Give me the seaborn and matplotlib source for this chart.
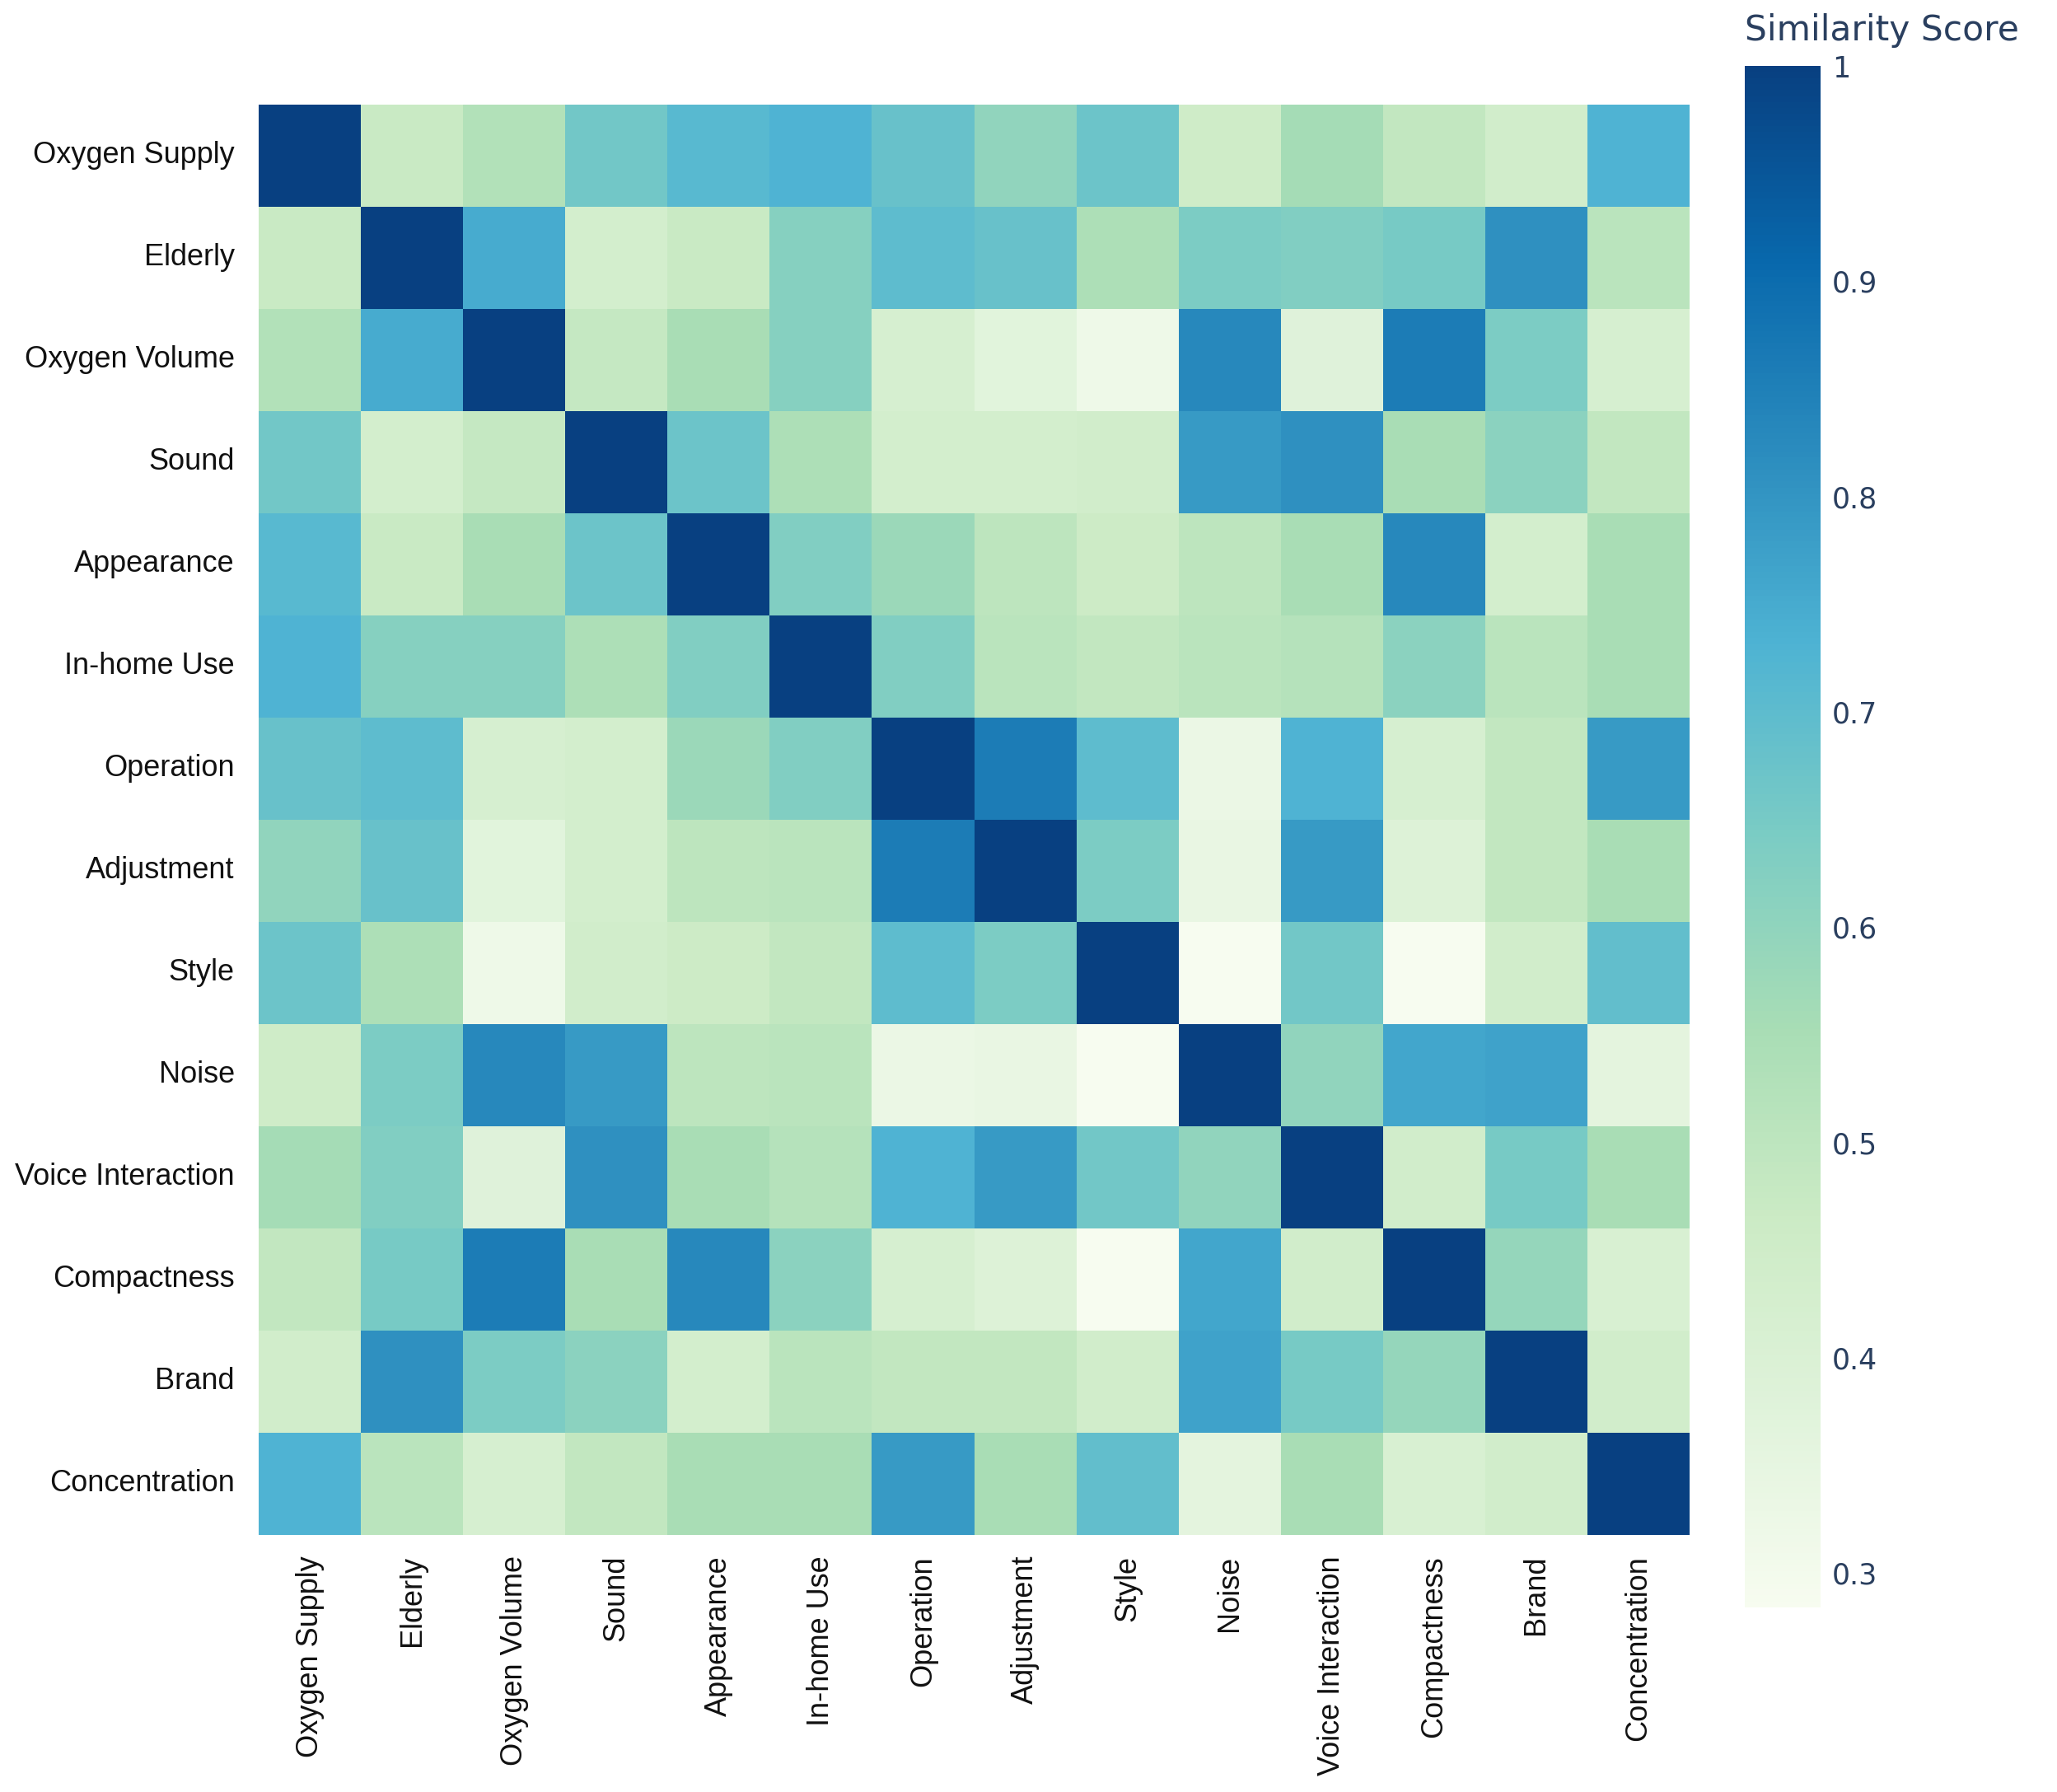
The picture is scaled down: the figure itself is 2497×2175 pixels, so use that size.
import matplotlib.pyplot as plt
import seaborn as sns
import pandas as pd

labels = [
    "Oxygen Supply", "Elderly", "Oxygen Volume", "Sound", "Appearance",
    "In-home Use", "Operation", "Adjustment", "Style", "Noise",
    "Voice Interaction", "Compactness", "Brand", "Concentration",
]

# similarity scores
scores = [
    [1.00, 0.47, 0.53, 0.66, 0.71, 0.73, 0.68, 0.60, 0.67, 0.45, 0.56, 0.49, 0.44, 0.73],
    [0.47, 1.00, 0.75, 0.43, 0.47, 0.62, 0.70, 0.68, 0.54, 0.64, 0.63, 0.65, 0.81, 0.51],
    [0.53, 0.75, 1.00, 0.48, 0.55, 0.62, 0.42, 0.37, 0.32, 0.83, 0.38, 0.86, 0.64, 0.42],
    [0.66, 0.43, 0.48, 1.00, 0.67, 0.54, 0.43, 0.43, 0.44, 0.79, 0.81, 0.55, 0.61, 0.49],
    [0.71, 0.47, 0.55, 0.67, 1.00, 0.63, 0.58, 0.50, 0.46, 0.50, 0.55, 0.83, 0.43, 0.55],
    [0.73, 0.62, 0.62, 0.54, 0.63, 1.00, 0.63, 0.51, 0.49, 0.51, 0.52, 0.61, 0.51, 0.55],
    [0.68, 0.70, 0.42, 0.43, 0.58, 0.63, 1.00, 0.86, 0.70, 0.33, 0.73, 0.42, 0.49, 0.79],
    [0.60, 0.68, 0.37, 0.43, 0.50, 0.51, 0.86, 1.00, 0.64, 0.34, 0.79, 0.39, 0.49, 0.55],
    [0.67, 0.54, 0.32, 0.44, 0.46, 0.49, 0.70, 0.64, 1.00, 0.284, 0.66, 0.284, 0.44, 0.69],
    [0.45, 0.64, 0.83, 0.79, 0.50, 0.51, 0.33, 0.34, 0.284, 1.00, 0.60, 0.76, 0.77, 0.36],
    [0.56, 0.63, 0.38, 0.81, 0.55, 0.52, 0.73, 0.79, 0.66, 0.60, 1.00, 0.44, 0.65, 0.55],
    [0.49, 0.65, 0.86, 0.55, 0.83, 0.61, 0.42, 0.39, 0.284, 0.76, 0.44, 1.00, 0.59, 0.41],
    [0.44, 0.81, 0.64, 0.61, 0.43, 0.51, 0.49, 0.49, 0.44, 0.77, 0.65, 0.59, 1.00, 0.44],
    [0.73, 0.51, 0.42, 0.49, 0.55, 0.55, 0.79, 0.55, 0.69, 0.36, 0.55, 0.41, 0.44, 1.00],
]

cbar_ticks = [0.3, 0.4, 0.5, 0.6, 0.7, 0.8, 0.9, 1.0]
cbar_ticklabels = ["0.3", "0.4", "0.5", "0.6", "0.7", "0.8", "0.9", "1"]

df = pd.DataFrame(scores, index=labels, columns=labels)

sns.set_theme(style="white")
plt.rcParams["font.family"] = ["Liberation Sans", "DejaVu Sans"]

W, H = 2497, 2175
fig = plt.figure(figsize=(W / 100, H / 100), dpi=100)
ax = fig.add_axes([314 / W, 1 - 1863 / H, 1737 / W, 1736 / H])
cax = fig.add_axes([2118 / W, 1 - 1951 / H, 92 / W, 1871 / H])

sns.heatmap(
    df,
    cmap="GnBu",
    vmin=df.values.min(),
    vmax=1.0,
    square=False,
    linewidths=0,
    ax=ax,
    cbar_ax=cax,
)

ax.tick_params(axis="both", length=0, labelsize=26, colors="#111111")
ax.tick_params(axis="y", pad=21)
ax.tick_params(axis="x", pad=18)
ax.set_xticklabels(labels, rotation=90)
ax.set_yticklabels(labels, rotation=0)
ax.set_xlabel("")
ax.set_ylabel("")

cbar = ax.collections[0].colorbar
cbar.set_ticks(cbar_ticks)
cbar.set_ticklabels(cbar_ticklabels)
cbar.outline.set_visible(False)
cax.tick_params(length=0, labelsize=25, labelcolor="#2a3f5f", pad=10)
for t in cax.get_yticklabels():
    t.set_fontfamily("DejaVu Sans")

fig.text(
    2118 / W, 1 - 37 / H, "Similarity Score",
    fontsize=30.5, color="#2a3f5f", family="DejaVu Sans",
    ha="left", va="center",
)

fig.savefig("out.png", dpi=100)
